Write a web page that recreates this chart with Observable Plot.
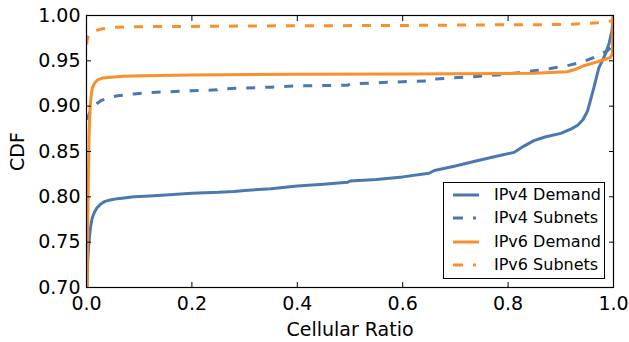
<!DOCTYPE html>
<html><head><meta charset="utf-8">
<script src="https://cdn.jsdelivr.net/npm/d3@7"></script>
<script src="https://cdn.jsdelivr.net/npm/@observablehq/plot@0.6"></script>
<style>
body{margin:0;background:#fff;font-family:"DejaVu Sans",sans-serif;}
#wrap{position:relative;width:629px;height:342px;}
#legend{position:absolute;left:443px;top:182px;width:162px;height:97px;border:1.2px solid #000;background:#fff;box-sizing:border-box;}
.row{position:absolute;left:0;height:20px;width:160px;}
.row svg{position:absolute;left:9px;top:8px;}
.row span{position:absolute;left:50px;top:0;font-size:16px;line-height:20px;color:#000;white-space:nowrap;}
</style></head><body><div id="wrap"></div>
<script>
const seriesNames = ["IPv4 Demand", "IPv4 Subnets", "IPv6 Demand", "IPv6 Subnets"];
const seriesColors = ["#4a78b0", "#4a78b0", "#f8902c", "#f8902c"];
const seriesDashed = [false, true, false, true];

const ipv4DemandX = [0.001,0.002,0.004,0.006,0.008,0.011,0.015,0.02,0.027,0.035,0.045,0.059,0.075,0.09,0.12,0.15,0.2,0.25,0.28,0.30,0.35,0.40,0.45,0.495,0.50,0.55,0.60,0.65,0.66,0.70,0.735,0.78,0.811,0.83,0.849,0.87,0.9,0.92,0.932,0.942,0.951,0.957,0.963,0.972,0.985,0.992,0.997,1.0];
const ipv4DemandY = [0.70,0.725,0.745,0.758,0.768,0.777,0.783,0.788,0.792,0.795,0.7965,0.798,0.799,0.800,0.801,0.802,0.804,0.805,0.806,0.807,0.809,0.812,0.814,0.816,0.8175,0.819,0.822,0.826,0.829,0.834,0.839,0.845,0.849,0.856,0.862,0.866,0.870,0.875,0.879,0.885,0.895,0.908,0.921,0.942,0.958,0.970,0.983,1.0];

const ipv4SubnetsX = [0.001,0.003,0.006,0.012,0.02,0.027,0.04,0.059,0.09,0.122,0.16,0.198,0.248,0.25,0.3,0.35,0.406,0.495,0.50,0.6,0.655,0.66,0.72,0.786,0.82,0.849,0.88,0.912,0.94,0.963,0.988,0.998,1.0];
const ipv4SubnetsY = [0.885,0.888,0.893,0.899,0.903,0.906,0.909,0.9115,0.9135,0.915,0.916,0.917,0.918,0.919,0.920,0.921,0.9225,0.923,0.9245,0.927,0.928,0.930,0.932,0.9347,0.937,0.939,0.9415,0.9446,0.9485,0.9537,0.961,0.966,1.0];

const ipv6DemandX = [0.001,0.003,0.005,0.007,0.009,0.011,0.015,0.021,0.03,0.046,0.07,0.109,0.2,0.4,0.6,0.8,0.849,0.88,0.912,0.93,0.944,0.97,0.994,0.998,0.999];
const ipv6DemandY = [0.70,0.80,0.87,0.90,0.912,0.920,0.925,0.929,0.931,0.932,0.933,0.9336,0.9345,0.9352,0.9356,0.936,0.9362,0.937,0.938,0.941,0.9446,0.949,0.9537,0.958,1.0];

const ipv6SubnetsX = [0.0005,0.001,0.003,0.005,0.01,0.027,0.05,0.078,0.2,0.4,0.6,0.8,0.9,0.944,0.97,0.997,1.0];
const ipv6SubnetsY = [0.968,0.972,0.977,0.9795,0.982,0.985,0.987,0.9876,0.988,0.9887,0.989,0.9898,0.990,0.991,0.992,0.994,0.996];

const xTicks = [0.0,0.2,0.4,0.6,0.8,1.0];
const yTicks = [0.70,0.75,0.80,0.85,0.90,0.95,1.00];

const allX = [ipv4DemandX, ipv4SubnetsX, ipv6DemandX, ipv6SubnetsX];
const allY = [ipv4DemandY, ipv4SubnetsY, ipv6DemandY, ipv6SubnetsY];
const tables = allX.map((xs, i) => xs.map((x, j) => ({x, y: allY[i][j], series: seriesNames[i]})));

const lineMarks = tables.map((t, i) => Plot.line(t, {
  x: "x", y: "y", stroke: seriesColors[i], strokeWidth: 3,
  strokeDasharray: seriesDashed[i] ? "9,10" : null, strokeLinecap: "butt", clip: true
}));

const chart = Plot.plot({
  width: 629, height: 342,
  marginLeft: 86, marginRight: 16, marginTop: 15, marginBottom: 55,
  style: {fontFamily: "DejaVu Sans", fontSize: "19px", color: "black", background: "white", overflow: "visible"},
  x: {domain: [0, 1]},
  y: {domain: [0.70, 1.00]},
  marks: [
    ...lineMarks,
    Plot.axisX(xTicks, {anchor: "bottom", tickSize: -5, tickPadding: 14, tickFormat: d3.format(".1f"), fontSize: 19,
      label: "Cellular Ratio", labelAnchor: "center", labelOffset: 48, labelArrow: "none"}),
    Plot.axisX(xTicks, {anchor: "top", tickSize: -5, tickFormat: () => "", label: null}),
    Plot.axisY(yTicks, {anchor: "left", tickSize: -5, tickPadding: 11, tickFormat: d3.format(".2f"), fontSize: 19,
      label: "CDF", labelAnchor: "center", labelOffset: 76, labelArrow: "none"}),
    Plot.axisY(yTicks, {anchor: "right", tickSize: -5, tickFormat: () => "", label: null}),
    Plot.frame({stroke: "black", strokeWidth: 1.2})
  ]
});
const wrap = document.getElementById("wrap");
wrap.appendChild(chart);

const legend = document.createElement("div");
legend.id = "legend";
seriesNames.forEach((name, i) => {
  const row = document.createElement("div");
  row.className = "row";
  row.style.top = (2 + 23.3 * i) + "px";
  const dash = seriesDashed[i] ? ' stroke-dasharray="10,10,3,10"' : "";
  row.innerHTML = `<svg width="26" height="4"><line x1="0" y1="2" x2="26" y2="2" stroke="${seriesColors[i]}" stroke-width="3"${dash}/></svg><span>${name}</span>`;
  legend.appendChild(row);
});
wrap.appendChild(legend);
</script>
</body></html>
